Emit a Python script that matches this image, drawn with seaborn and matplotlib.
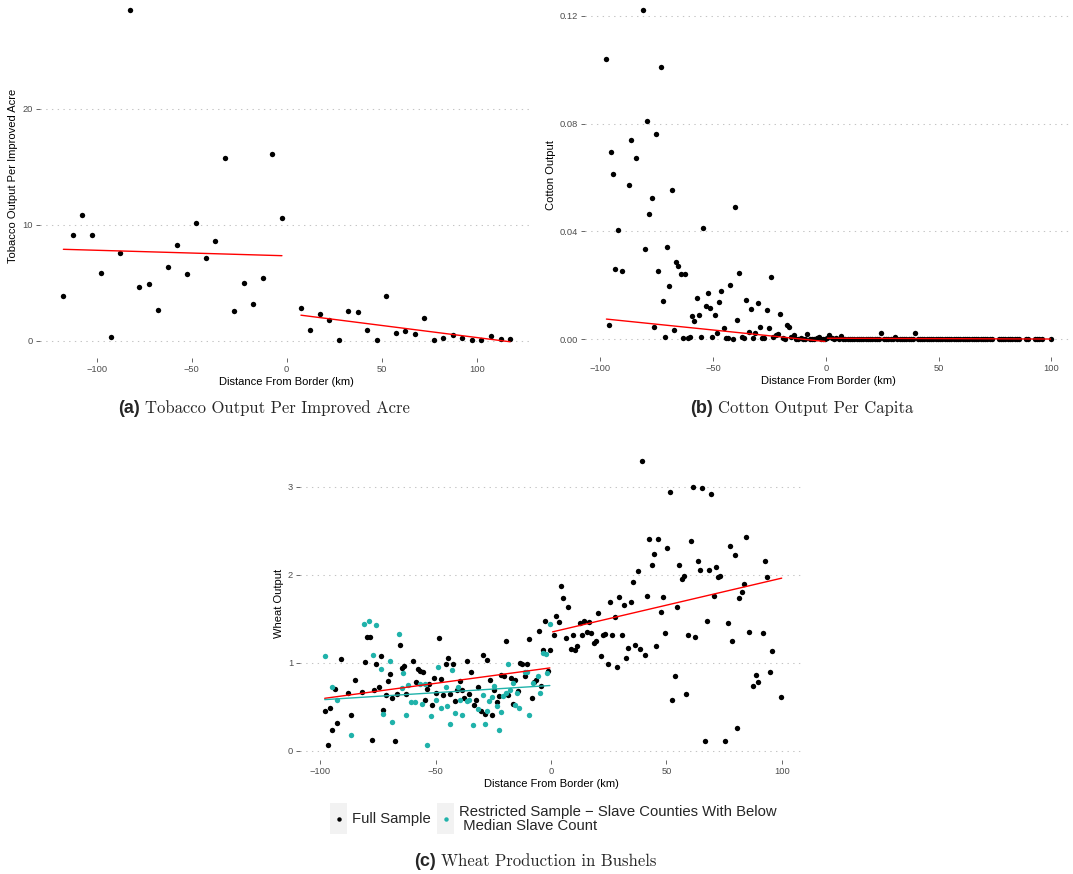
import matplotlib
matplotlib.use("Agg")
import matplotlib.pyplot as plt
from matplotlib.patches import Rectangle
from matplotlib.lines import Line2D
import seaborn as sns

# ---------------- data ----------------
# (a) Tobacco output per improved acre, 5 km bins
tob_x_slave = [-117.5, -112.5, -107.5, -102.5, -97.5, -92.5, -87.5, -82.5, -77.5, -72.5,
               -67.5, -62.5, -57.5, -52.5, -47.5, -42.5, -37.5, -32.5, -27.5, -22.5,
               -17.5, -12.5, -7.5, -2.5]
tob_y_slave = [3.85, 9.08, 10.8, 9.1, 5.84, 0.35, 7.6, 28.5, 4.6, 4.86,
               2.67, 6.33, 8.25, 5.75, 10.12, 7.1, 8.62, 15.75, 2.59, 5.0,
               3.19, 5.38, 16.07, 10.55]
tob_x_free = [7.5, 12.5, 17.5, 22.5, 27.5, 32.5, 37.5, 42.5, 47.5, 52.5, 57.5, 62.5,
              67.5, 72.5, 77.5, 82.5, 87.5, 92.5, 97.5, 102.5, 107.5, 112.5, 117.5]
tob_y_free = [2.79, 0.95, 2.33, 1.76, 0.06, 2.59, 2.47, 0.95, 0.06, 3.88, 0.64, 0.84,
              0.55, 1.98, 0.06, 0.2, 0.52, 0.26, 0.09, 0.09, 0.43, 0.15, 0.15]
tob_fit_slave_x = [-117.5, -2.5]
tob_fit_slave_y = [7.88, 7.33]
tob_fit_free_x = [7.5, 117.5]
tob_fit_free_y = [2.2, -0.09]

# (b) Cotton output per capita, 1 km bins
cot_x_slave = [-97.3, -96.3, -95.3, -94.2, -93.3, -92.3, -90.2, -87.3, -86.3, -84.3,
               -81.2, -80.3, -79.3, -78.3, -77.2, -76.3, -75.3, -74.3, -73.2, -72.2,
               -71.3, -70.3, -69.4, -68.3, -67.3, -66.4, -65.4, -64.3, -63.3, -62.3,
               -61.3, -60.2, -59.3, -58.3, -57.3, -56.2, -55.2, -54.3, -53.3, -52.2,
               -51.2, -50.3, -49.3, -48.2, -47.2, -46.3, -45.3, -44.3, -43.2, -42.3,
               -41.3, -40.3, -39.2, -38.4, -37.3, -36.3, -35.3, -34.2, -33.3, -32.3,
               -31.3, -30.2, -29.3, -28.3, -27.3, -26.2, -25.3, -24.3, -23.3, -22.2,
               -21.2, -20.3, -19.2, -18.3, -17.3, -16.4, -15.4, -14.3, -13.3, -12.2,
               -11.2, -10.2, -9.2, -8.2, -7.2, -6.2, -5.2, -4.0, -3.2, -2.2, -1.2, -0.3]
cot_y_slave = [0.104, 0.0054, 0.0696, 0.0613, 0.0262, 0.0404, 0.0253, 0.0571, 0.0741, 0.0674,
               0.1223, 0.0335, 0.081, 0.0464, 0.0525, 0.0047, 0.0763, 0.0255, 0.1012, 0.0142,
               0.001, 0.0342, 0.0198, 0.0555, 0.0033, 0.0286, 0.0271, 0.0241, 0.0004, 0.0241,
               0.0004, 0.0007, 0.0085, 0.0069, 0.0152, 0.009, 0.001, 0.0413, 0.0122, 0.0171,
               0.0115, 0.0007, 0.0091, 0.0023, 0.014, 0.018, 0.0042, 0.0004, 0.0004, 0.02,
               0.0001, 0.0491, 0.0073, 0.0247, 0.0007, 0.0004, 0.0146, 0.0028, 0.0112, 0.0005,
               0.0022, 0.0136, 0.0044, 0.0006, 0.0004, 0.0109, 0.0042, 0.023, 0.001, 0.0015,
               0.0019, 0.0095, 0.0005, 0.0002, 0.0053, 0.0045, 0.0009, 0.0016, 0.0002, 0.0001,
               0.0003, 0.0001, 0.0002, 0.0019, 0.0001, 0.0002, 0.0001, 0.0006, 0.0008, 0.0002,
               0.0001, 0.0002]
cot_x_free = [0.7, 1.6, 2.7, 3.7, 4.7, 5.7, 6.6, 7.7, 8.7, 9.7, 10.7, 11.7, 12.7, 13.7,
              14.7, 15.7, 16.7, 17.7, 18.7, 19.7, 20.7, 21.7, 22.7, 23.7, 24.7, 25.7, 26.7,
              27.7, 28.7, 29.7, 30.7, 31.7, 32.7, 33.7, 34.7, 35.7, 36.7, 37.7, 38.7, 39.7,
              40.7, 41.7, 42.7, 43.7, 44.7, 45.7, 46.7, 47.7, 48.7, 49.7, 50.7, 51.7, 52.7,
              53.7, 54.7, 55.7, 56.7, 57.7, 58.7, 59.7, 60.7, 61.7, 62.7, 63.7, 64.7, 65.7,
              66.7, 67.7, 68.7, 69.7, 70.7, 71.7, 72.7, 73.7, 76.7, 77.7, 78.7, 79.7, 80.7,
              81.7, 82.7, 83.7, 84.7, 85.7, 88.7, 89.7, 92.7, 93.7, 94.7, 95.7, 99.7]
cot_y_free = [0.0003, 0.0016, 0.0004, 0.0002, 0.0003, 0.0002, 0.0011, 0.0002, 0.0001, 0.0001,
              0.0001, 0.0002, 0.0001, 0.0001, 0.0001, 0.0001, 0.0002, 0.0001, 0.0001, 0.0001,
              0.0001, 0.0001, 0.0001, 0.0001, 0.0023, 0.0001, 0.0001, 0.0001, 0.0001, 0.0001,
              0.001, 0.0001, 0.0001, 0.0001, 0.0001, 0.0001, 0.0001, 0.0001, 0.0001, 0.0022,
              0.0001, 0.0001, 0.0001, 0.0001, 0.0001, 0.0001, 0.0001, 0.0001, 0.0001, 0.0001,
              0.0001, 0.0001, 0.0001, 0.0001, 0.0001, 0.0001, 0.0001, 0.0001, 0.0001, 0.0001,
              0.0001, 0.0001, 0.0001, 0.0001, 0.0001, 0.0001, 0.0001, 0.0001, 0.0001, 0.0001,
              0.0001, 0.0001, 0.0001, 0.0001, 0.0001, 0.0001, 0.0001, 0.0001, 0.0001, 0.0001,
              0.0001, 0.0001, 0.0001, 0.0001, 0.0001, 0.0001, 0.0001, 0.0001, 0.0001, 0.0001,
              0.0001]
cot_fit_slave_x = [-97.3, -0.4]
cot_fit_slave_y = [0.0075, -0.0008]
cot_fit_free_x = [0.7, 99.7]
cot_fit_free_y = [0.0004, 0.0001]

# (c) Wheat output, full sample
wht_x_slave = [-97.7, -96.7, -95.7, -94.7, -93.7, -92.8, -90.8, -87.7, -86.7, -84.7,
               -81.7, -80.7, -79.7, -78.6, -77.6, -76.6, -75.6, -74.6, -73.6, -72.6,
               -71.6, -70.6, -69.7, -68.7, -67.7, -66.7, -65.6, -64.6, -63.6, -62.6,
               -59.6, -58.6, -57.6, -56.7, -55.6, -54.7, -53.7, -52.7, -51.7, -50.6,
               -49.6, -48.6, -47.6, -46.6, -45.6, -44.6, -43.6, -42.6, -41.6, -40.5,
               -39.5, -38.5, -37.5, -36.5, -35.5, -34.5, -33.5, -32.5, -31.5, -30.4,
               -29.6, -28.6, -27.6, -26.6, -25.5, -24.5, -23.5, -22.5, -21.5, -20.5,
               -19.5, -18.5, -17.5, -16.5, -15.5, -14.4, -13.4, -12.4, -11.4, -10.4,
               -9.4, -8.4, -7.4, -6.3, -5.3, -4.3, -3.3, -2.5, -1.4, -0.4]
wht_y_slave = [0.45, 0.06, 0.48, 0.23, 0.7, 0.32, 1.04, 0.66, 0.41, 0.8,
               0.67, 1.01, 1.29, 1.29, 0.12, 0.69, 0.98, 0.72, 1.08, 0.46,
               0.63, 0.79, 0.875, 0.6, 0.11, 0.64, 1.2, 0.94, 0.96, 0.64,
               1.02, 0.78, 0.93, 0.91, 0.89, 0.58, 0.7, 0.76, 0.52, 0.83,
               0.66, 1.28, 0.81, 0.63, 0.99, 1.05, 0.64, 0.99, 0.56, 0.69,
               0.79, 0.69, 0.6, 1.02, 0.64, 0.89, 0.52, 0.58, 0.72, 0.45,
               1.09, 0.42, 1.03, 0.8, 0.41, 0.69, 0.55, 0.62, 0.86, 0.85,
               1.25, 0.63, 0.83, 0.53, 0.8, 0.68, 1.0, 0.99, 0.85, 0.98,
               1.27, 0.6, 0.78, 0.8, 1.36, 0.73, 1.14, 1.47, 0.9, 1.14]
wht_x_free = [1.4, 2.3, 3.5, 4.5, 5.3, 6.3, 7.5, 8.5, 9.4, 10.4, 11.4, 12.4, 13.4, 14.4,
              15.4, 16.5, 17.5, 18.5, 19.5, 20.5, 21.5, 22.5, 23.5, 24.5, 25.5, 26.5, 27.6,
              28.6, 29.6, 30.6, 31.5, 32.5, 33.5, 34.5, 35.5, 36.5, 37.5, 38.5, 39.5, 40.5,
              41.6, 42.6, 43.6, 44.4, 45.5, 46.5, 47.5, 48.5, 49.5, 50.4, 51.5, 52.5, 53.5,
              54.5, 55.6, 56.6, 57.6, 58.4, 59.5, 60.5, 61.5, 62.5, 63.5, 64.5, 65.5, 66.5,
              67.5, 68.5, 69.4, 70.4, 71.4, 72.4, 73.4, 75.5, 76.5, 77.5, 78.5, 79.5, 80.5,
              81.5, 82.5, 83.5, 84.6, 85.6, 87.6, 88.6, 89.6, 91.6, 92.6, 93.6, 94.7, 95.7,
              99.6]
wht_y_free = [1.31, 1.53, 1.46, 1.87, 1.73, 1.28, 1.63, 1.16, 1.31, 1.14, 1.19, 1.45, 1.31,
              1.47, 1.35, 1.46, 1.34, 1.22, 1.25, 1.56, 1.07, 1.31, 1.32, 0.99, 1.69, 1.31,
              1.52, 0.95, 1.75, 1.31, 1.66, 1.05, 1.17, 1.69, 1.92, 1.2, 2.04, 1.15, 3.29,
              1.09, 1.76, 2.41, 2.11, 2.23, 1.19, 2.4, 1.58, 1.75, 1.34, 2.3, 2.94, 0.58,
              0.85, 1.63, 2.11, 1.95, 1.99, 0.64, 1.31, 2.38, 3.0, 1.29, 2.16, 2.05, 2.98,
              0.11, 1.47, 2.05, 2.92, 1.76, 2.09, 1.97, 1.99, 0.11, 1.45, 2.32, 1.25, 2.22,
              0.26, 1.73, 1.8, 1.89, 2.43, 1.35, 0.73, 0.86, 0.78, 1.34, 2.16, 1.97, 0.89,
              1.13, 0.61]
# (c) Wheat output, restricted sample (slave counties below median slave count)
wht_x_restr = [-97.8, -94.9, -92.8, -86.7, -80.8, -78.8, -76.9, -75.8, -73.7, -72.6,
               -69.7, -68.7, -65.7, -64.6, -63.9, -62.8, -61.8, -60.7, -58.7, -56.6,
               -55.7, -54.6, -53.7, -51.8, -49.8, -48.8, -47.6, -45.6, -45.0, -43.6,
               -42.7, -41.6, -40.4, -39.5, -38.7, -36.5, -35.5, -33.6, -31.5, -29.6,
               -28.6, -27.6, -26.7, -25.5, -24.5, -23.5, -22.6, -21.6, -20.8, -19.6,
               -18.6, -17.6, -16.6, -15.5, -14.6, -13.7, -11.4, -10.5, -9.7, -7.7,
               -5.6, -4.6, -3.6, -2.3, -1.6, -0.6]
wht_y_restr = [1.08, 0.72, 0.58, 0.18, 1.44, 1.47, 1.09, 1.43, 0.93, 0.42,
               1.02, 0.33, 1.32, 0.71, 0.88, 0.41, 0.75, 0.55, 0.55, 0.76,
               0.53, 0.76, 0.06, 0.39, 0.58, 0.95, 0.49, 0.72, 0.51, 0.3,
               0.92, 0.43, 0.72, 0.58, 0.4, 0.56, 0.57, 0.29, 0.47, 0.63,
               0.3, 0.45, 0.56, 0.61, 0.74, 0.51, 0.23, 0.44, 0.62, 0.66,
               0.98, 0.69, 0.77, 0.52, 0.66, 0.49, 0.89, 0.89, 0.41, 0.77,
               0.85, 0.66, 1.11, 1.1, 0.88, 1.44]
wht_fit_slave_x = [-98.0, -0.5]
wht_fit_slave_y = [0.595, 0.94]
wht_fit_free_x = [0.7, 99.9]
wht_fit_free_y = [1.35, 1.96]
wht_fit_restr_x = [-98.0, -0.5]
wht_fit_restr_y = [0.58, 0.74]

x_ticks = [-100, -50, 0, 50, 100]
tob_ticks = [0, 10, 20]
cot_ticks = [0.0, 0.04, 0.08, 0.12]
cot_ticklabels = ["0.00", "0.04", "0.08", "0.12"]
wht_ticks = [0, 1, 2, 3]
x_title = "Distance From Border (km)"
legend_labels = ["Full Sample",
                 "Restricted Sample \u2212 Slave Counties With Below\n Median Slave Count"]

TEAL = "#20B2AA"
RED = "#FF0000"

# ---------------- figure ----------------
sns.set_theme(style="white")
plt.rcParams["font.family"] = ["Liberation Sans", "DejaVu Sans"]
plt.rcParams["axes.unicode_minus"] = True

W, H = 1073, 874
fig = plt.figure(figsize=(W / 100, H / 100), dpi=100)
fig.patch.set_facecolor("white")


def axes_px(left, top, right, bottom):
    return fig.add_axes([left / W, 1 - bottom / H, (right - left) / W, (bottom - top) / H])


def style(ax, xlim, ylim, yticks, yticklabels, ylabel):
    ax.set_xlim(*xlim)
    ax.set_ylim(*ylim)
    ax.set_facecolor("white")
    for s in ax.spines.values():
        s.set_visible(False)
    ax.set_xticks(x_ticks)
    ax.set_yticks(yticks)
    ax.set_yticklabels(yticklabels)
    ax.grid(False)
    for v in yticks:
        ax.axhline(v, color="#c4c4c4", lw=0.75, ls=(0, (1.3, 4.2)), zorder=0)
    ax.tick_params(axis="both", which="major", length=2.75, width=0.6, color="#4d4d4d",
                   labelcolor="#4d4d4d", labelsize=6.7, pad=2.2,
                   bottom=True, left=True)
    ax.set_xlabel(x_title, fontsize=8, color="black", labelpad=2.5)
    ax.set_ylabel(ylabel, fontsize=8, color="black", labelpad=3)


def scatter(ax, x, y, color):
    sns.scatterplot(x=x, y=y, ax=ax, color=color, s=15, linewidth=0, zorder=3, legend=False)


def fit(ax, x, y, color):
    sns.lineplot(x=x, y=y, ax=ax, color=color, lw=1.0, estimator=None, sort=False,
                 zorder=4, legend=False)


# (a)
axA = axes_px(40, -6.5, 533, 358)
scatter(axA, tob_x_slave, tob_y_slave, "black")
scatter(axA, tob_x_free, tob_y_free, "black")
fit(axA, tob_fit_slave_x, tob_fit_slave_y, RED)
fit(axA, tob_fit_free_x, tob_fit_free_y, RED)
style(axA, (-129.8, 129.6), (-1.49, 29.93), tob_ticks, [str(t) for t in tob_ticks],
      "Tobacco Output Per Improved Acre")

# (b)
axB = axes_px(585, -7, 1072, 357)
scatter(axB, cot_x_slave, cot_y_slave, "black")
scatter(axB, cot_x_free, cot_y_free, "black")
fit(axB, cot_fit_slave_x, cot_fit_slave_y, RED)
fit(axB, cot_fit_free_x, cot_fit_free_y, RED)
style(axB, (-106.8, 109.2), (-0.00657, 0.1285), cot_ticks, cot_ticklabels, "Cotton Output")

# (c)
axC = axes_px(300, 447, 802, 760)
scatter(axC, wht_x_slave, wht_y_slave, "black")
scatter(axC, wht_x_free, wht_y_free, "black")
scatter(axC, wht_x_restr, wht_y_restr, TEAL)
fit(axC, wht_fit_slave_x, wht_fit_slave_y, RED)
fit(axC, wht_fit_free_x, wht_fit_free_y, RED)
fit(axC, wht_fit_restr_x, wht_fit_restr_y, TEAL)
style(axC, (-108.7, 108.7), (-0.106, 3.45), wht_ticks, [str(t) for t in wht_ticks],
      "Wheat Output")


# legend for (c), ggplot-style keys
def fx(x):
    return x / W


def fy(y):
    return 1 - y / H


for (kx0, kx1, col) in [(330, 347, "black"), (437, 454, TEAL)]:
    fig.add_artist(Rectangle((fx(kx0), fy(834)), (kx1 - kx0) / W, 31 / H,
                             transform=fig.transFigure, facecolor="#f2f2f2",
                             edgecolor="none"))
    fig.add_artist(Line2D([fx((kx0 + kx1) / 2)], [fy(819)], marker="o", markersize=3.2,
                          color=col, markeredgewidth=0, transform=fig.transFigure))
fig.text(fx(352), fy(819), legend_labels[0], fontsize=10.7, va="center", ha="left")
fig.text(fx(459), fy(819), legend_labels[1], fontsize=10.7, va="center", ha="left",
         linespacing=0.95)

# sub-figure captions
captions = [
    (118, 408, "(a)", "Tobacco Output Per Improved Acre"),
    (690, 408, "(b)", "Cotton Output Per Capita"),
    (414, 861, "(c)", "Wheat Production in Bushels"),
]
for x0, y0, tag, text in captions:
    t = fig.text(fx(x0), fy(y0), tag, fontsize=13, fontweight="bold", va="center",
                 ha="left", family=["Liberation Sans"])
    fig.canvas.draw()
    bb = t.get_window_extent()
    fig.text((bb.x1 + 5) / W, fy(y0), text, fontsize=12, va="center", ha="left",
             family=["cmr10"])

fig.savefig("out.png", dpi=100, facecolor="white")
